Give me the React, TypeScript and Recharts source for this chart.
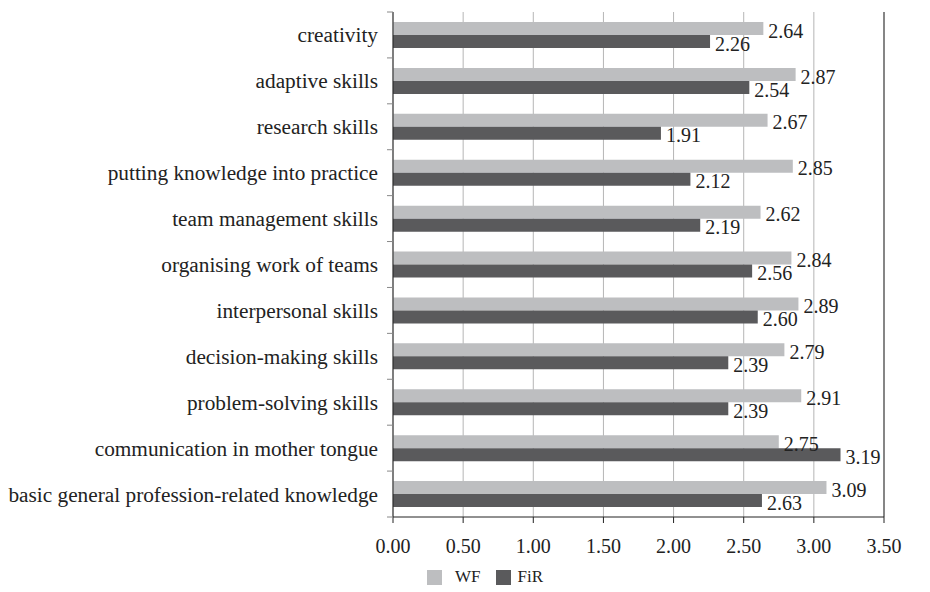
import React from "react";
import { BarChart, Bar, XAxis, YAxis, CartesianGrid, Legend, LabelList, ReferenceLine } from "recharts";

const categories = [
  "creativity",
  "adaptive skills",
  "research skills",
  "putting knowledge into practice",
  "team management skills",
  "organising work of teams",
  "interpersonal skills",
  "decision-making skills",
  "problem-solving skills",
  "communication in mother tongue",
  "basic general profession-related knowledge",
];
const wfValues = [2.64, 2.87, 2.67, 2.85, 2.62, 2.84, 2.89, 2.79, 2.91, 2.75, 3.09];
const firValues = [2.26, 2.54, 1.91, 2.12, 2.19, 2.56, 2.6, 2.39, 2.39, 3.19, 2.63];
const xTicks = [0, 0.5, 1, 1.5, 2, 2.5, 3, 3.5];
const seriesNames = ["WF", "FiR"];
const seriesColors = ["#bdbec0", "#5a5a5c"];

const data = categories.map((c, i) => ({ name: c, WF: wfValues[i], FiR: firValues[i] }));

const FONT = "'Liberation Serif', 'Times New Roman', serif";
const W = 914;
const H = 584;
const MARGIN = { top: 4, right: 38, bottom: 45, left: 0 };
const X_AXIS_H = 30;
const BAND = (H - MARGIN.top - MARGIN.bottom - X_AXIS_H) / categories.length;

const CatTick = (props: any) => {
  const { x, y, payload, index } = props;
  const axisX = x + 15;
  return (
    <g>
      <line x1={axisX - 6} x2={axisX} y1={y - BAND / 2} y2={y - BAND / 2} stroke="#888" />
      {index === categories.length - 1 && (
        <line x1={axisX - 6} x2={axisX} y1={y + BAND / 2} y2={y + BAND / 2} stroke="#888" />
      )}
      <text x={x} y={y} dy="0.35em" textAnchor="end" fill="#222" fontFamily={FONT} fontSize={21.3}>
        {payload.value}
      </text>
    </g>
  );
};

const LegendContent = () => (
  <div style={{ display: "flex", alignItems: "center", paddingLeft: 419, fontFamily: FONT, fontSize: 17, color: "#222" }}>
    {seriesNames.map((n, i) => (
      <div key={n} style={{ display: "flex", alignItems: "center", marginRight: 15 }}>
        <div style={{ width: 15, height: 15, background: seriesColors[i], marginRight: i === 0 ? 13 : 7 }} />
        <span>{n}</span>
      </div>
    ))}
  </div>
);

export default function App() {
  return (
    <BarChart
      width={W}
      height={H}
      data={data}
      layout="vertical"
      margin={MARGIN}
      barGap={0}
      barSize={13}
    >
      <CartesianGrid horizontal={false} stroke="#b5b5b5" />
      <XAxis
        type="number"
        domain={[0, 3.5]}
        ticks={xTicks}
        tickFormatter={(v: number) => v.toFixed(2)}
        height={X_AXIS_H}
        axisLine={{ stroke: "#222" }}
        tickLine={{ stroke: "#222" }}
        tickSize={6}
        tickMargin={16}
        tick={{ fill: "#222", fontFamily: FONT, fontSize: 20 }}
        interval={0}
      />
      <YAxis
        type="category"
        dataKey="name"
        width={385}
        axisLine={{ stroke: "#222" }}
        tickLine={false}
        tickSize={0}
        tickMargin={15}
        tick={<CatTick />}
        interval={0}
      />
      <ReferenceLine x={3.5} stroke="#333" />
      <Legend layout="horizontal" verticalAlign="middle" align="center" wrapperStyle={{ top: 559, left: 0, width: W }} content={<LegendContent />} />
      {seriesNames.map((n, i) => (
        <Bar key={n} dataKey={n} fill={seriesColors[i]} isAnimationActive={false}>
          <LabelList
            dataKey={n}
            position="right"
            offset={5}
            formatter={(v: number) => v.toFixed(2)}
            style={{ fill: "#222", fontFamily: FONT, fontSize: 20 }}
            dy={2}
          />
        </Bar>
      ))}
    </BarChart>
  );
}
